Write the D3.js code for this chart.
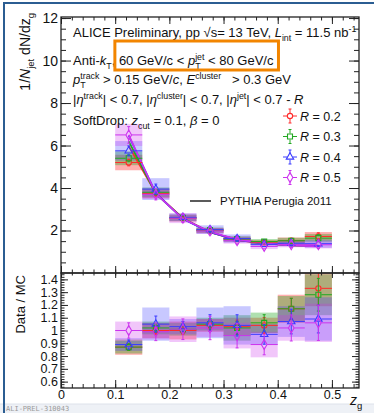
<!DOCTYPE html>
<html><head><meta charset="utf-8">
<script src="https://cdn.jsdelivr.net/npm/d3@7"></script>
<style>
html,body{margin:0;padding:0;background:#fff;}
svg text{font-family:"Liberation Sans",Arial,Helvetica,sans-serif;white-space:pre;fill:#111;}
</style></head><body>
<svg id="chart" width="374" height="413"></svg>
<script>
// ---- data ----------------------------------------------------------
// z_g bins: lower edges, each 0.05 wide
const zgLow = [0.10, 0.15, 0.20, 0.25, 0.30, 0.35, 0.40, 0.45];
const binWidth = 0.05;
const radiusLabels = ["0.2", "0.3", "0.4", "0.5"];

// 1/N_jet dN/dz_g, measured
const dataR02 = [5.20, 3.75, 2.58, 2.00, 1.60, 1.45, 1.52, 1.72];
const dataR03 = [5.40, 3.80, 2.60, 2.02, 1.60, 1.48, 1.52, 1.64];
const dataR04 = [5.75, 3.95, 2.62, 2.04, 1.62, 1.35, 1.40, 1.38];
const dataR05 = [6.50, 3.70, 2.58, 1.98, 1.52, 1.25, 1.33, 1.33];

// PYTHIA Perugia 2011
const mcR02 = [5.98, 3.75, 2.58, 1.92, 1.55, 1.39, 1.30, 1.29];
const mcR03 = [6.20, 3.73, 2.57, 1.92, 1.57, 1.40, 1.30, 1.28];
const mcR04 = [6.46, 3.76, 2.54, 1.92, 1.56, 1.39, 1.31, 1.27];
const mcR05 = [6.50, 3.74, 2.55, 1.94, 1.58, 1.40, 1.30, 1.25];

// Data / MC
const ratioR02 = [0.87, 1.00, 1.00, 1.04, 1.03, 1.04, 1.17, 1.33];
const ratioR03 = [0.87, 1.02, 1.01, 1.05, 1.02, 1.06, 1.17, 1.28];
const ratioR04 = [0.89, 1.05, 1.03, 1.06, 1.04, 0.97, 1.07, 1.09];
const ratioR05 = [1.00, 0.99, 1.01, 1.02, 0.96, 0.89, 1.02, 1.06];

// relative statistical uncertainties
const statR02 = [0.03, 0.03, 0.03, 0.04, 0.05, 0.06, 0.07, 0.10];
const statR03 = [0.03, 0.03, 0.03, 0.04, 0.05, 0.06, 0.07, 0.10];
const statR04 = [0.04, 0.06, 0.04, 0.06, 0.08, 0.08, 0.09, 0.10];
const statR05 = [0.06, 0.07, 0.08, 0.09, 0.10, 0.09, 0.10, 0.13];

// relative systematic uncertainties, distribution
const sysTopR02 = [0.07, 0.06, 0.06, 0.06, 0.07, 0.07, 0.10, 0.12];
const sysTopR03 = [0.06, 0.06, 0.06, 0.06, 0.08, 0.08, 0.09, 0.12];
const sysTopR04 = [0.08, 0.13, 0.07, 0.10, 0.12, 0.08, 0.10, 0.14];
const sysTopR05 = [0.08, 0.06, 0.09, 0.07, 0.09, 0.10, 0.09, 0.13];

// systematic uncertainties on the ratio (absolute, ratio units)
const sysRatioR02 = [0.06, 0.06, 0.07, 0.05, 0.07, 0.06, 0.11, 0.14];
const sysRatioR03 = [0.05, 0.05, 0.05, 0.05, 0.10, 0.08, 0.10, 0.16];
const sysRatioR04 = [0.05, 0.13, 0.06, 0.12, 0.15, 0.08, 0.12, 0.17];
const sysRatioR05 = [0.07, 0.06, 0.10, 0.07, 0.10, 0.10, 0.10, 0.15];

const yTopTicks = [2, 4, 6, 8, 10, 12];
const yBotTicks = [0.6, 0.7, 0.8, 0.9, 1.0, 1.1, 1.2, 1.3, 1.4];
const xTicks = [0, 0.1, 0.2, 0.3, 0.4, 0.5];

// ---- styling -------------------------------------------------------
const colors = ["#ff2a2a", "#22a822", "#3a3aff", "#cc33ee"];
const boxOpacity = [0.38, 0.36, 0.28, 0.28];
const shapes = [d3.symbolCircle, d3.symbolSquare, d3.symbolTriangle, d3.symbolDiamond];
const shapeSize = [22, 25, 24, 28];

const series = radiusLabels.map((r, i) => ({
  r, color: colors[i], shape: shapes[i], size: shapeSize[i], op: boxOpacity[i],
  data: [dataR02, dataR03, dataR04, dataR05][i],
  mc: [mcR02, mcR03, mcR04, mcR05][i],
  ratio: [ratioR02, ratioR03, ratioR04, ratioR05][i],
  stat: [statR02, statR03, statR04, statR05][i],
  sysTop: [sysTopR02, sysTopR03, sysTopR04, sysTopR05][i],
  sysRatio: [sysRatioR02, sysRatioR03, sysRatioR04, sysRatioR05][i]
}));

const svg = d3.select("#chart");
const L = 61, R = 359, T = 17, MID = 273, B = 388;

const x = d3.scaleLinear().domain([0, 0.55]).range([L, R]);
const yTop = d3.scaleLinear().domain([0, 12.05]).range([MID, T]);
const yBot = d3.scaleLinear().domain([0.55, 1.45]).range([B, MID]);

// slide frame
svg.append("rect").attr("x", 0).attr("y", 404).attr("width", 374).attr("height", 9).attr("fill", "#eef1f6");
svg.append("line").attr("x1", 0).attr("x2", 374).attr("y1", 404).attr("y2", 404).attr("stroke", "#dde2ea");
svg.append("line").attr("x1", 4).attr("x2", 4).attr("y1", 2).attr("y2", 413).attr("stroke", "#2b5d92").attr("stroke-width", 2);
svg.append("line").attr("x1", 3).attr("x2", 374).attr("y1", 3).attr("y2", 3).attr("stroke", "#2b5d92").attr("stroke-width", 2);

const defs = svg.append("defs");
defs.append("clipPath").attr("id", "clipTop").append("rect").attr("x", L).attr("y", T).attr("width", R - L).attr("height", MID - T);
defs.append("clipPath").attr("id", "clipBot").append("rect").attr("x", L).attr("y", MID).attr("width", R - L).attr("height", B - MID);

// ---- generic drawing of one panel ----------------------------------
function drawPanel(clipId, yScale, valueKey, sysKey, withMC) {
  const g = svg.append("g").attr("clip-path", `url(#${clipId})`);
  // systematic boxes
  series.forEach(s => {
    g.selectAll(null).data(zgLow).enter().append("rect")
      .attr("x", d => x(d)).attr("width", x(binWidth) - x(0))
      .attr("y", (d, i) => {
        const v = s[valueKey][i];
        const e = valueKey === "data" ? v * s[sysKey][i] : s[sysKey][i];
        return yScale(v + e);
      })
      .attr("height", (d, i) => {
        const v = s[valueKey][i];
        const e = valueKey === "data" ? v * s[sysKey][i] : s[sysKey][i];
        return yScale(v - e) - yScale(v + e);
      })
      .attr("fill", s.color).attr("fill-opacity", s.op);
  });
  // model curves
  if (withMC) {
    const line = d3.line().x((d, i) => x(zgLow[i] + binWidth / 2)).y(d => yScale(d));
    series.forEach(s => {
      g.append("path").attr("d", line(s.mc)).attr("fill", "none")
        .attr("stroke", s.color).attr("stroke-width", 1.7);
    });
  }
  // error bars + markers
  series.forEach(s => {
    zgLow.forEach((lo, i) => {
      const v = s[valueKey][i];
      const cx = x(lo + binWidth / 2), cy = yScale(v);
      const e = v * s.stat[i];
      const r = 3;
      const eg = g.append("g").attr("stroke", s.color).attr("stroke-width", 1);
      eg.append("line").attr("x1", x(lo)).attr("x2", cx - r).attr("y1", cy).attr("y2", cy);
      eg.append("line").attr("x1", cx + r).attr("x2", x(lo + binWidth)).attr("y1", cy).attr("y2", cy);
      const yt = yScale(v + e), yb = yScale(v - e);
      if (cy - yt > r) eg.append("line").attr("x1", cx).attr("x2", cx).attr("y1", yt).attr("y2", cy - r);
      if (yb - cy > r) eg.append("line").attr("x1", cx).attr("x2", cx).attr("y1", cy + r).attr("y2", yb);
      eg.append("line").attr("x1", cx - 1.5).attr("x2", cx + 1.5).attr("y1", yt).attr("y2", yt);
      eg.append("line").attr("x1", cx - 1.5).attr("x2", cx + 1.5).attr("y1", yb).attr("y2", yb);
      g.append("path").attr("d", d3.symbol(s.shape, s.size)())
        .attr("transform", `translate(${cx},${cy})`)
        .attr("fill", "none").attr("stroke", s.color).attr("stroke-width", 1.1);
    });
  });
}

drawPanel("clipTop", yTop, "data", "sysTop", true);
drawPanel("clipBot", yBot, "ratio", "sysRatio", false);

// ---- axes ----------------------------------------------------------
const fmt = d => String(+d.toFixed(2));
function axisG(tr, axis, fs) {
  const g = svg.append("g").attr("transform", tr).call(axis);
  g.select(".domain").remove();
  g.selectAll("line").attr("stroke", "#222").attr("stroke-width", 1);
  g.selectAll("text").attr("font-size", fs).attr("font-family", "Liberation Sans, Arial, sans-serif").attr("fill", "#111");
  return g;
}
const range = (a, b, st) => d3.range(Math.round((b - a) / st) + 1).map(k => +(a + k * st).toFixed(4));

// top panel: y
axisG(`translate(${L},0)`, d3.axisLeft(yTop).tickValues(yTopTicks).tickSize(-10).tickPadding(3).tickFormat(fmt), 14);
axisG(`translate(${L},0)`, d3.axisLeft(yTop).tickValues(range(0.5, 12, 0.5)).tickSize(-5).tickFormat(""), 10);
axisG(`translate(${R},0)`, d3.axisRight(yTop).tickValues(yTopTicks).tickSize(-10).tickFormat(""), 10);
axisG(`translate(${R},0)`, d3.axisRight(yTop).tickValues(range(0.5, 12, 0.5)).tickSize(-5).tickFormat(""), 10);
// top panel: x ticks on both edges
axisG(`translate(0,${T})`, d3.axisBottom(x).tickValues(xTicks).tickSize(7).tickFormat(""), 10);
axisG(`translate(0,${T})`, d3.axisBottom(x).tickValues(range(0, 0.54, 0.02)).tickSize(3.5).tickFormat(""), 10);
axisG(`translate(0,${MID})`, d3.axisBottom(x).tickValues(xTicks).tickSize(-7).tickFormat(""), 10);
axisG(`translate(0,${MID})`, d3.axisBottom(x).tickValues(range(0, 0.54, 0.02)).tickSize(-3.5).tickFormat(""), 10);

// bottom panel: y
axisG(`translate(${L},0)`, d3.axisLeft(yBot).tickValues(yBotTicks).tickSize(-7).tickPadding(3).tickFormat(fmt), 12.5);
axisG(`translate(${L},0)`, d3.axisLeft(yBot).tickValues(range(0.56, 1.44, 0.02)).tickSize(-3.5).tickFormat(""), 10);
axisG(`translate(${R},0)`, d3.axisRight(yBot).tickValues(yBotTicks).tickSize(-7).tickFormat(""), 10);
axisG(`translate(${R},0)`, d3.axisRight(yBot).tickValues(range(0.56, 1.44, 0.02)).tickSize(-3.5).tickFormat(""), 10);
// bottom panel: x
axisG(`translate(0,${MID})`, d3.axisBottom(x).tickValues(xTicks).tickSize(5).tickFormat(""), 10);
axisG(`translate(0,${MID})`, d3.axisBottom(x).tickValues(range(0, 0.54, 0.02)).tickSize(2.5).tickFormat(""), 10);
axisG(`translate(0,${B})`, d3.axisBottom(x).tickValues(xTicks).tickSize(-8).tickPadding(2).tickFormat(fmt), 12.5);
axisG(`translate(0,${B})`, d3.axisBottom(x).tickValues(range(0, 0.54, 0.02)).tickSize(-4).tickFormat(""), 10);

// frames
[[T, MID], [MID, B]].forEach(([a, b]) => {
  svg.append("rect").attr("x", L).attr("y", a).attr("width", R - L).attr("height", b - a)
    .attr("fill", "none").attr("stroke", "#222").attr("stroke-width", 1.3);
});

// ---- rich text helper ---------------------------------------------
function rich(g, x0, y0, pieces, fs) {
  let cx = x0;
  const marks = {};
  pieces.forEach(p => {
    if (p.mark) { marks[p.mark] = cx; return; }
    if (p.sup !== undefined || p.sub !== undefined) {
      const sfs = fs * 0.68;
      let w = 0;
      if (p.sup !== undefined) {
        const t = g.append("text").attr("x", cx).attr("y", y0 - fs * 0.42).attr("font-size", sfs).text(p.sup);
        w = Math.max(w, t.node().getComputedTextLength());
      }
      if (p.sub !== undefined) {
        const t = g.append("text").attr("x", cx).attr("y", y0 + fs * 0.28).attr("font-size", sfs).text(p.sub);
        w = Math.max(w, t.node().getComputedTextLength());
      }
      cx += w + (p.gap || 0);
    } else {
      const t = g.append("text").attr("x", cx).attr("y", y0).attr("font-size", fs).text(p.t);
      if (p.it) t.attr("font-style", "italic");
      cx += t.node().getComputedTextLength();
    }
  });
  marks.end = cx;
  return marks;
}

const info = svg.append("g");
const fsInfo = 13;
rich(info, 73, 37, [
  { t: "ALICE Preliminary, pp " }, { t: "√s= 13 TeV, " }, { t: "L", it: true }, { sub: "int" },
  { t: " = 11.5 nb" }, { sup: "-1" }
], fsInfo);
const m2 = rich(info, 73, 65, [
  { t: "Anti-" }, { t: "k", it: true }, { sub: "T" }, { t: ", " }, { mark: "boxStart" },
  { t: "60 GeV/c < " }, { t: "p", it: true }, { sup: "jet", sub: "T" }, { t: " < 80 GeV/c" }, { mark: "boxEnd" }
], fsInfo);
rich(info, 73, 84, [
  { t: "p", it: true }, { sup: "track", sub: "T" }, { t: " > 0.15 GeV/" }, { t: "c", it: true }, { t: ", " },
  { t: "E", it: true }, { sup: "cluster" }, { t: "   > 0.3 GeV" }
], fsInfo);
rich(info, 73, 104, [
  { t: "|" }, { t: "η", it: true }, { sup: "track" }, { t: "| < 0.7, |" }, { t: "η", it: true }, { sup: "cluster" },
  { t: "| < 0.7, |" }, { t: "η", it: true }, { sup: "jet" }, { t: "| < 0.7 - " }, { t: "R", it: true }
], fsInfo);
rich(info, 73, 125, [
  { t: "SoftDrop: " }, { t: "z", it: true }, { sub: "cut" }, { t: " = 0.1, " }, { t: "β", it: true }, { t: " = 0" }
], fsInfo);

// highlight of the jet momentum interval
svg.append("rect").attr("x", m2.boxStart - 4).attr("y", 41).attr("width", m2.boxEnd - m2.boxStart + 9).attr("height", 29)
  .attr("fill", "none").attr("stroke", "#f28500").attr("stroke-width", 3);

// ---- legend ---------------------------------------------------------
const legY = [116, 136.5, 157, 177.5];
const lg = svg.append("g");
series.forEach((s, i) => {
  const cx = 290, cy = legY[i], r = 3;
  const eg = lg.append("g").attr("stroke", s.color).attr("stroke-width", 1);
  eg.append("line").attr("x1", cx - 7).attr("x2", cx - r).attr("y1", cy).attr("y2", cy);
  eg.append("line").attr("x1", cx + r).attr("x2", cx + 7).attr("y1", cy).attr("y2", cy);
  eg.append("line").attr("x1", cx).attr("x2", cx).attr("y1", cy - 7).attr("y2", cy - r);
  eg.append("line").attr("x1", cx).attr("x2", cx).attr("y1", cy + r).attr("y2", cy + 7);
  eg.append("line").attr("x1", cx - 1.5).attr("x2", cx + 1.5).attr("y1", cy - 7).attr("y2", cy - 7);
  eg.append("line").attr("x1", cx - 1.5).attr("x2", cx + 1.5).attr("y1", cy + 7).attr("y2", cy + 7);
  lg.append("path").attr("d", d3.symbol(s.shape, s.size)()).attr("transform", `translate(${cx},${cy})`)
    .attr("fill", "none").attr("stroke", s.color).attr("stroke-width", 1.1);
  rich(lg, 300, cy + 4.5, [{ t: "R", it: true }, { t: " = " + s.r }], 12.5);
});
lg.append("line").attr("x1", 190).attr("x2", 211).attr("y1", 201).attr("y2", 201).attr("stroke", "#333").attr("stroke-width", 1.6);
lg.append("text").attr("x", 220).attr("y", 205).attr("font-size", 11.5).text("PYTHIA Perugia 2011");

// ---- axis titles ----------------------------------------------------
const yt1 = svg.append("g").attr("transform", "translate(30,13) rotate(-90)");
(function () {
  // laid out right-to-left from the anchor at the top end
  const pieces = [{ t: "1/" }, { t: "N", it: true }, { sub: "jet" }, { t: " dN/dz" }, { sub: "g" }];
  const tmp = svg.append("g").attr("opacity", 0);
  const m = rich(tmp, 0, 0, pieces, 14);
  tmp.remove();
  rich(yt1, -m.end, 0, pieces, 14);
})();
svg.append("text").attr("transform", "translate(25,275) rotate(-90)").attr("text-anchor", "end")
  .attr("font-size", 13).text("Data / MC");
rich(svg.append("g"), 350, 405, [{ t: "z", it: true }, { sub: "g" }], 14);

svg.append("text").attr("x", 6).attr("y", 411).attr("font-size", 7)
  .style("font-family", "'DejaVu Sans Mono', monospace").style("fill", "#9a9a9a").text("ALI-PREL-310043");
</script>
</body></html>
